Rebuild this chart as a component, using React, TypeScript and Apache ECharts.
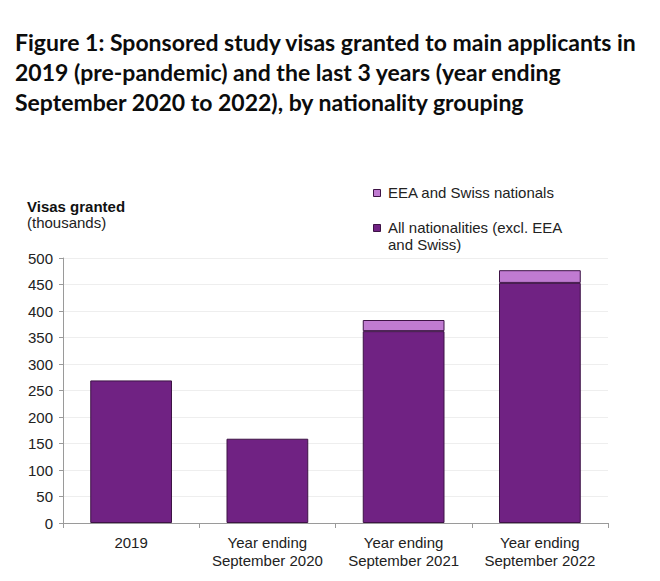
import React, { useEffect, useRef } from "react";
import * as echarts from "echarts";

const categories = [
  "2019",
  "Year ending\nSeptember 2020",
  "Year ending\nSeptember 2021",
  "Year ending\nSeptember 2022",
];
const allNationalities = [269, 159, 362, 453];
const eeaSwiss = [0, 0, 21, 24];
const seriesNames = ["All nationalities (excl. EEA\nand Swiss)", "EEA and Swiss nationals"];
const colors = ["#702283", "#c07bd1"];
const yTicks = { min: 0, max: 500, interval: 50 };

const titleLines = [
  "Figure 1: Sponsored study visas granted to main applicants in",
  "2019 (pre-pandemic) and the last 3 years (year ending",
  "September 2020 to 2022), by nationality grouping",
];

export default function App() {
  const ref = useRef<HTMLDivElement>(null);
  useEffect(() => {
    document.body.style.margin = "0";
    const chart = echarts.init(ref.current!, null, { renderer: "svg" });
    const font = "'Liberation Sans', Arial, sans-serif";
    chart.setOption({
      animation: false,
      backgroundColor: "#ffffff",
      grid: { left: 63, right: 52, top: 258, bottom: 58 },
      xAxis: {
        type: "category",
        data: categories,
        axisLine: { lineStyle: { color: "#9a9a9a", width: 1 } },
        axisTick: { show: true, alignWithLabel: false, length: 5, lineStyle: { color: "#9a9a9a" } },
        axisLabel: { color: "#222", fontSize: 15, fontFamily: font, margin: 10, lineHeight: 18, interval: 0 },
      },
      yAxis: {
        type: "value",
        min: yTicks.min,
        max: yTicks.max,
        interval: yTicks.interval,
        axisLine: { show: true, lineStyle: { color: "#9a9a9a", width: 1 } },
        axisTick: { show: true, length: 4, lineStyle: { color: "#9a9a9a" } },
        axisLabel: { color: "#222", fontSize: 15, fontFamily: font, margin: 10 },
        splitLine: { show: true, lineStyle: { color: "#eeeeee", width: 1 } },
      },
      series: [
        {
          name: seriesNames[0],
          type: "bar",
          stack: "total",
          data: allNationalities,
          barWidth: "60%",
          itemStyle: { color: colors[0], borderColor: "#3d1345", borderWidth: 1 },
        },
        {
          name: seriesNames[1],
          type: "bar",
          stack: "total",
          data: eeaSwiss.map((v) => (v === 0 ? null : v)),
          barWidth: "60%",
          itemStyle: { color: colors[1], borderColor: "#3d1345", borderWidth: 1 },
        },
      ],
      graphic: [
        ...titleLines.map((t, i) => ({
          type: "text",
          left: 15,
          top: 30 + i * 30,
          style: {
            text: t,
            fontSize: 23,
            fontWeight: "bold",
            fontFamily: "Lato, 'Noto Sans', sans-serif",
            fill: "#0b0c0c",
          },
        })),
        {
          type: "text",
          left: 27,
          top: 199,
          style: { text: "Visas granted", fontSize: 15, fontWeight: "bold", fontFamily: font, fill: "#111" },
        },
        {
          type: "text",
          left: 27,
          top: 215,
          style: { text: "(thousands)", fontSize: 15, fontFamily: font, fill: "#222" },
        },
        {
          type: "rect",
          shape: { x: 373.5, y: 189.5, width: 7, height: 7 },
          style: { fill: colors[1], stroke: "#3d1345", lineWidth: 1 },
        },
        {
          type: "text",
          left: 388,
          top: 185,
          style: { text: seriesNames[1], fontSize: 15, fontFamily: font, fill: "#222" },
        },
        {
          type: "rect",
          shape: { x: 373.5, y: 224.5, width: 7, height: 7 },
          style: { fill: colors[0], stroke: "#3d1345", lineWidth: 1 },
        },
        {
          type: "text",
          left: 388,
          top: 219,
          style: { text: seriesNames[0], fontSize: 15, fontFamily: font, fill: "#222", lineHeight: 17 },
        },
      ],
    });
    return () => chart.dispose();
  }, []);
  return <div ref={ref} style={{ width: 660, height: 581 }} />;
}
